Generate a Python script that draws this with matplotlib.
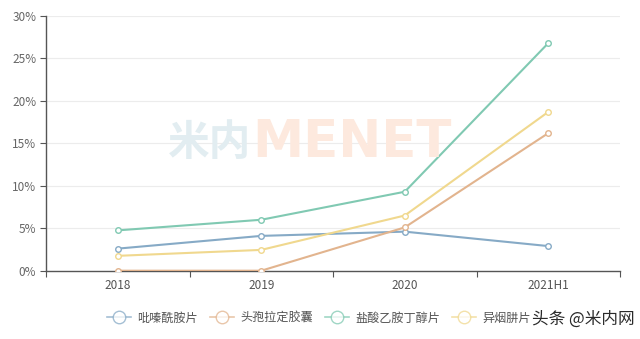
import matplotlib
matplotlib.use("Agg")
import matplotlib.pyplot as plt
from matplotlib.lines import Line2D
from matplotlib.ticker import FixedLocator, NullFormatter

plt.rcParams['font.family'] = ['Noto Sans CJK SC', 'DejaVu Sans']

categories = ["2018", "2019", "2020", "2021H1"]
series_names = ["吡嗪酰胺片", "头孢拉定胶囊", "盐酸乙胺丁醇片", "异烟肼片"]
pyrazinamide = [2.6, 4.1, 4.6, 2.9]
cefradine = [0.0, 0.0, 5.1, 16.2]
ethambutol = [4.75, 6.0, 9.3, 26.8]
isoniazid = [1.75, 2.45, 6.5, 18.7]
y_ticks = [0, 5, 10, 15, 20, 25, 30]

colors = ["#86aac6", "#e2b48e", "#80c9b2", "#f0d88e"]
values = [pyrazinamide, cefradine, ethambutol, isoniazid]

fig = plt.figure(figsize=(6.4, 3.39), dpi=100)
ax = fig.add_axes([46 / 640, 1 - 270.7 / 339, 574 / 640, (270.7 - 16) / 339])

x = list(range(len(categories)))
for name, vals, c in zip(series_names, values, colors):
    ax.plot(x, vals, color=c, lw=1.5, marker='o', ms=4, mfc='white',
            mec=c, mew=1.0, label=name, zorder=3)

ax.set_xlim(-0.5, len(categories) - 0.5)
ax.set_ylim(0, 30)
ax.set_yticks(y_ticks)
ax.set_yticklabels([f"{v}%" for v in y_ticks])
ax.yaxis.grid(True, color="#ececec", lw=0.8)
ax.set_axisbelow(True)

# category labels sit between boundary ticks
ax.xaxis.set_major_locator(FixedLocator([i - 0.5 for i in range(len(categories) + 1)]))
ax.xaxis.set_major_formatter(NullFormatter())
ax.xaxis.set_minor_locator(FixedLocator(x))
ax.set_xticklabels(categories, minor=True)
ax.tick_params(axis='x', which='minor', length=0, pad=6, labelsize=8.5, labelcolor="#555555")
ax.tick_params(axis='x', which='major', length=4, color="#555555", width=0.8)
ax.tick_params(axis='y', length=4, color="#555555", width=0.8, labelsize=8.5,
               labelcolor="#666666", pad=3)

for s in ["top", "right"]:
    ax.spines[s].set_visible(False)
ax.spines["left"].set_color("#555555")
ax.spines["bottom"].set_color("#555555")
ax.spines["left"].set_linewidth(1.0)
ax.spines["bottom"].set_linewidth(1.0)

# faint brand watermark
fig.text(168 / 640, 1 - 143 / 339, "米内", fontsize=30, fontweight='bold',
         color="#e2edf1", va='center', ha='left', zorder=0)
fig.text(252 / 640, 1 - 143 / 339, "MENET", fontsize=37, fontweight='bold',
         color="#fde9de", va='center', ha='left', family='DejaVu Sans', zorder=0)

handles = [Line2D([0], [0], color=c, lw=1.2, marker='o', ms=9, mfc='white', mec=c,
                  mew=1.0, alpha=0.75)
           for c in colors]
fig.legend(handles, series_names, loc='center', bbox_to_anchor=(319 / 640, 1 - 318 / 339),
           ncol=4, frameon=False, fontsize=8.7, handlelength=2.0, columnspacing=1.0,
           handletextpad=0.5, labelcolor="#555555")

fig.text(635 / 640, 1 - 319 / 339, "头条 @米内网", fontsize=12, color="#2a2a2a",
         ha='right', va='center')

fig.savefig("out.png", dpi=100)
